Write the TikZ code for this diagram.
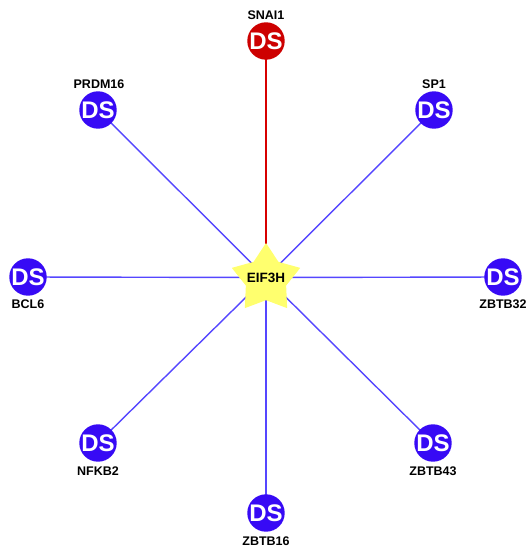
\documentclass[tikz,border=0pt]{standalone}
\usepackage{fontspec}
\setmainfont{Liberation Sans}
\usetikzlibrary{shapes.geometric}
\pgfdeclarelayer{background}
\pgfsetlayers{background,main}
\definecolor{dsblue}{RGB}{55,10,245}
\definecolor{dsred}{RGB}{205,0,0}
\definecolor{edgeblue}{RGB}{85,70,255}
\definecolor{edgered}{RGB}{215,0,0}
\definecolor{staryellow}{RGB}{255,255,110}
\tikzset{
  ds/.style={circle,fill=dsblue,minimum size=37pt,inner sep=0pt,text=white,font=\bfseries\fontsize{24}{24}\selectfont},
  dsred/.style={ds,fill=dsred},
  lbl/.style={font=\bfseries\fontsize{12.5}{12.5}\selectfont,inner sep=0pt},
  hub/.style={star,star points=5,star point ratio=1.7,fill=staryellow,minimum size=72pt,inner sep=0pt},
  hublbl/.style={font=\bfseries\fontsize{13.5}{13.5}\selectfont,inner sep=0pt},
  bedge/.style={draw=edgeblue,line width=1.4pt},
  redge/.style={draw=edgered,line width=1.3pt}
}
\begin{document}
\begin{tikzpicture}[x=1pt,y=-1pt]
\useasboundingbox (0,0) rectangle (528,549);
\node[hub] (eif) at (266,279) {};
\node[hublbl] (eiflbl) at (266,277.5) {EIF3H};
\node[dsred] (snai) at (266,41) {DS};
\node[lbl] at (266,15) {SNAI1};
\node[ds] (prdm) at (98,110) {DS};
\node[lbl] at (99,84) {PRDM16};
\node[ds] (sp1) at (434,110) {DS};
\node[lbl] at (434,84) {SP1};
\node[ds] (bcl) at (28,277) {DS};
\node[lbl] at (28,304) {BCL6};
\node[ds] (zb32) at (503,277) {DS};
\node[lbl] at (503,304) {ZBTB32};
\node[ds] (nfkb) at (98,443) {DS};
\node[lbl] at (98,471) {NFKB2};
\node[ds] (zb43) at (433,443) {DS};
\node[lbl] at (433,471) {ZBTB43};
\node[ds] (zb16) at (266,513) {DS};
\node[lbl] at (266,541) {ZBTB16};
\begin{pgfonlayer}{background}
\draw[redge] (eiflbl.center) -- (snai.center);
\draw[bedge] (eiflbl.center) -- (prdm.center);
\draw[bedge] (eiflbl.center) -- (sp1.center);
\draw[bedge] (eiflbl.center) -- (bcl.center);
\draw[bedge] (eiflbl.center) -- (zb32.center);
\draw[bedge] (eiflbl.center) -- (nfkb.center);
\draw[bedge] (eiflbl.center) -- (zb43.center);
\draw[bedge] (eiflbl.center) -- (zb16.center);
\end{pgfonlayer}
\end{tikzpicture}
\end{document}
